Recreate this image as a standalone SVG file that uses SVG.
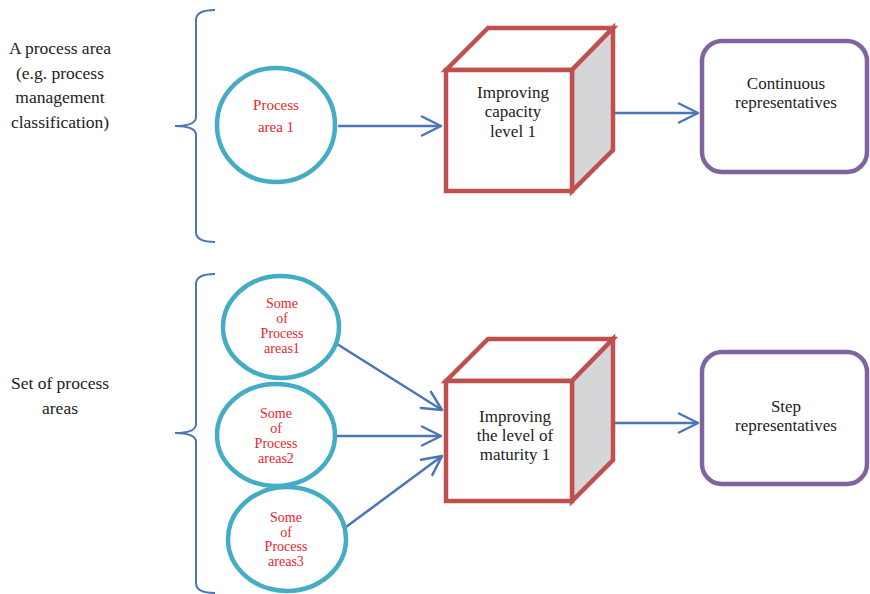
<svg xmlns="http://www.w3.org/2000/svg" width="870" height="594" viewBox="0 0 870 594">
  <style>
    .brace { fill: none; stroke: #4a76b8; stroke-width: 2; }
    .conn { fill: none; stroke: #4a76b8; stroke-width: 2.5; }
    .area { fill: #ffffff; stroke: #45acc5; stroke-width: 4.5; }
    .cube-face { fill: #ffffff; stroke: #c0504d; stroke-width: 4.5; stroke-linejoin: miter; }
    .cube-side { fill: #d5d6d8; stroke: #c0504d; stroke-width: 4.5; stroke-linejoin: miter; }
    .rep { fill: #ffffff; stroke: #8064a2; stroke-width: 4.5; }
    text { font-family: "Liberation Serif", "DejaVu Serif", "Times New Roman", serif; text-anchor: middle; }
    .lbl { font-size: 17.5px; fill: #222222; }
    .box { font-size: 17px; fill: #222222; }
    .red { font-size: 15px; fill: #e8262b; }
    .red-sm { font-size: 14px; fill: #e8262b; }
  </style>
  <defs>
    <marker id="chevron" markerWidth="12" markerHeight="12" refX="10" refY="6" orient="auto" markerUnits="userSpaceOnUse" viewBox="0 0 12 12" overflow="visible">
      <path d="M-9,-3.5 L10,6 L-9,15.5" fill="none" stroke="#4a76b8" stroke-width="2.5" stroke-linecap="round" stroke-linejoin="round"/>
    </marker>
  </defs>

  <!-- side labels -->
  <g id="label-single">
    <text class="lbl" x="60" y="54">A process area</text>
    <text class="lbl" x="60" y="79">(e.g. process</text>
    <text class="lbl" x="60" y="103">management</text>
    <text class="lbl" x="60" y="128">classification)</text>
  </g>
  <g id="label-set">
    <text class="lbl" x="60" y="389">Set of process</text>
    <text class="lbl" x="60" y="414">areas</text>
  </g>

  <!-- braces -->
  <g id="braces">
    <path class="brace" d="M215,10 Q196,10 196,20 L196,117 Q196,126 175,126 Q196,126 196,135 L196,232 Q196,242 215,242"/>
    <path class="brace" d="M215,274 Q196,274 196,284 L196,424 Q196,433 175,433 Q196,433 196,442 L196,583 Q196,593 215,593"/>
  </g>

  <!-- connectors -->
  <g id="connectors">
    <line class="conn" x1="338" y1="126" x2="441" y2="126" marker-end="url(#chevron)"/>
    <line class="conn" x1="613" y1="113" x2="698" y2="113" marker-end="url(#chevron)"/>
    <line class="conn" x1="337" y1="344" x2="442" y2="410" marker-end="url(#chevron)"/>
    <line class="conn" x1="337" y1="436" x2="441" y2="436" marker-end="url(#chevron)"/>
    <line class="conn" x1="346" y1="527" x2="442" y2="456" marker-end="url(#chevron)"/>
    <line class="conn" x1="613" y1="423" x2="698" y2="423" marker-end="url(#chevron)"/>
  </g>

  <!-- process areas -->
  <g id="process-area-1">
    <ellipse class="area" cx="276" cy="125" rx="59" ry="57"/>
    <text class="red" x="276" y="110">Process</text>
    <text class="red" x="276" y="132">area 1</text>
  </g>
  <g id="some-areas-1">
    <ellipse class="area" cx="281" cy="327" rx="58" ry="51"/>
    <text class="red-sm" x="282" y="308">Some</text>
    <text class="red-sm" x="282" y="323">of</text>
    <text class="red-sm" x="282" y="338">Process</text>
    <text class="red-sm" x="282" y="353">areas1</text>
  </g>
  <g id="some-areas-2">
    <ellipse class="area" cx="276" cy="435" rx="59" ry="51"/>
    <text class="red-sm" x="276" y="418">Some</text>
    <text class="red-sm" x="276" y="433">of</text>
    <text class="red-sm" x="276" y="448">Process</text>
    <text class="red-sm" x="276" y="463">areas2</text>
  </g>
  <g id="some-areas-3">
    <ellipse class="area" cx="287" cy="539" rx="59" ry="52"/>
    <text class="red-sm" x="286" y="522">Some</text>
    <text class="red-sm" x="286" y="537">of</text>
    <text class="red-sm" x="286" y="551">Process</text>
    <text class="red-sm" x="286" y="566">areas3</text>
  </g>

  <!-- improvement cubes -->
  <g id="capacity-cube">
    <polygon class="cube-face" points="446,70 488,28 613,28 572,70"/>
    <polygon class="cube-side" points="572,70 613,28 613,150 572,191"/>
    <rect class="cube-face" x="446" y="70" width="126" height="121"/>
    <text class="box" x="513" y="98">Improving</text>
    <text class="box" x="513" y="117">capacity</text>
    <text class="box" x="513" y="137">level 1</text>
  </g>
  <g id="maturity-cube">
    <polygon class="cube-face" points="446,381 488,339 613,339 572,381"/>
    <polygon class="cube-side" points="572,381 613,339 613,460 572,501"/>
    <rect class="cube-face" x="446" y="381" width="126" height="120"/>
    <text class="box" x="515" y="422">Improving</text>
    <text class="box" x="515" y="441">the level of</text>
    <text class="box" x="515" y="460">maturity 1</text>
  </g>

  <!-- representations -->
  <g id="continuous-rep">
    <rect class="rep" x="702" y="41" width="165" height="131" rx="20" ry="20"/>
    <text class="box" x="786" y="89">Continuous</text>
    <text class="box" x="786" y="108">representatives</text>
  </g>
  <g id="step-rep">
    <rect class="rep" x="702" y="352" width="165" height="132" rx="20" ry="20"/>
    <text class="box" x="786" y="412">Step</text>
    <text class="box" x="786" y="431">representatives</text>
  </g>
</svg>
